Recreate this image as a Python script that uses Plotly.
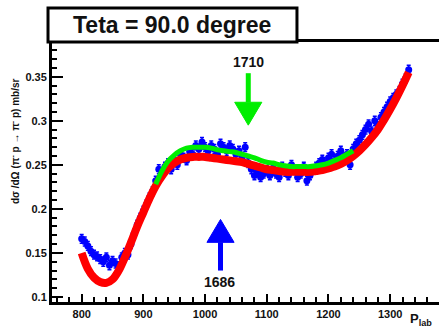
import plotly.graph_objects as go

# ---- data ----
p_lab = [800, 805, 810, 815, 820, 825, 830, 835, 840, 845, 850, 855, 860, 865, 870, 875,
         880, 885, 890, 895, 900, 905, 910, 915, 920, 925, 930, 935, 940, 945, 950, 955,
         960, 965, 970, 975, 980, 985, 990, 995, 1000, 1005, 1010, 1015, 1020, 1025, 1030,
         1035, 1040, 1045, 1050, 1055, 1060, 1065, 1070, 1075, 1080, 1085, 1090, 1095, 1100,
         1105, 1110, 1115, 1120, 1125, 1130, 1135, 1140, 1145, 1150, 1155, 1160, 1165, 1170,
         1175, 1180, 1185, 1190, 1195, 1200, 1205, 1210, 1215, 1220, 1225, 1230, 1235, 1240,
         1245, 1250, 1255, 1260, 1265, 1270, 1275, 1280, 1285, 1290, 1295, 1300, 1305, 1310,
         1315, 1320, 1325, 1330]
dsigma = [0.166, 0.163, 0.158, 0.152, 0.148, 0.146, 0.143, 0.140, 0.145, 0.136, 0.141, 0.138,
          0.135, 0.145, 0.150, 0.148, 0.160, 0.172, 0.182, 0.190, 0.198, 0.205, 0.213, 0.220,
          0.232, 0.245, 0.240, 0.248, 0.252, 0.245, 0.256, 0.250, 0.262, 0.258, 0.255, 0.265,
          0.262, 0.272, 0.268, 0.276, 0.270, 0.266, 0.272, 0.268, 0.262, 0.274, 0.270, 0.266,
          0.272, 0.268, 0.262, 0.266, 0.258, 0.270, 0.252, 0.245, 0.238, 0.242, 0.236, 0.240,
          0.244, 0.238, 0.246, 0.240, 0.236, 0.248, 0.242, 0.238, 0.250, 0.244, 0.236, 0.240,
          0.248, 0.232, 0.238, 0.245, 0.248, 0.252, 0.256, 0.250, 0.258, 0.262, 0.255, 0.260,
          0.266, 0.258, 0.262, 0.250, 0.268, 0.274, 0.278, 0.284, 0.290, 0.296, 0.288, 0.300,
          0.294, 0.304, 0.310, 0.316, 0.322, 0.326, 0.330, 0.334, 0.342, 0.348, 0.358]
dsigma_err = [0.005] * len(p_lab)

fit_red_x = [800, 810, 820, 830, 840, 850, 860, 870, 880, 890, 900, 910, 920, 930, 940, 950,
             960, 970, 980, 990, 1000, 1010, 1020, 1030, 1040, 1050, 1060, 1070, 1080, 1090,
             1100, 1110, 1120, 1130, 1140, 1150, 1160, 1170, 1180, 1190, 1200, 1210, 1220,
             1230, 1240, 1250, 1260, 1270, 1280, 1290, 1300, 1310, 1320, 1330]
fit_red_y = [0.150, 0.132, 0.122, 0.117, 0.116, 0.120, 0.130, 0.145, 0.162, 0.180, 0.196,
             0.212, 0.226, 0.237, 0.246, 0.252, 0.256, 0.258, 0.259, 0.259, 0.259, 0.258,
             0.257, 0.256, 0.255, 0.254, 0.253, 0.251, 0.249, 0.247, 0.245, 0.244, 0.243,
             0.242, 0.242, 0.242, 0.242, 0.242, 0.243, 0.244, 0.246, 0.248, 0.251, 0.255,
             0.260, 0.266, 0.273, 0.281, 0.290, 0.301, 0.313, 0.326, 0.340, 0.355]

fit_green_x = [920, 930, 940, 950, 960, 970, 980, 990, 1000, 1010, 1020, 1030, 1040, 1050,
               1060, 1070, 1080, 1090, 1100, 1110, 1120, 1130, 1140, 1150, 1160, 1170, 1180,
               1190, 1200, 1210, 1220, 1230, 1240]
fit_green_y = [0.228, 0.243, 0.254, 0.261, 0.266, 0.269, 0.270, 0.270, 0.270, 0.269, 0.267,
               0.266, 0.265, 0.264, 0.262, 0.260, 0.258, 0.255, 0.253, 0.252, 0.250, 0.249,
               0.248, 0.248, 0.248, 0.248, 0.249, 0.250, 0.252, 0.255, 0.258, 0.262, 0.266]

x_ticks = [800, 900, 1000, 1100, 1200, 1300]
y_ticks = [0.1, 0.15, 0.2, 0.25, 0.3, 0.35]
y_tick_labels = ["0.1", "0.15", "0.2", "0.25", "0.3", "0.35"]

# ---- figure ----
fig = go.Figure()
fig.add_trace(go.Scatter(
    x=p_lab, y=dsigma, mode="markers",
    marker=dict(color="#0000ff", size=7, symbol="circle"),
    error_y=dict(type="data", array=dsigma_err, color="#0000ff", thickness=1.5, width=2),
    showlegend=False))
fig.add_trace(go.Scatter(x=fit_red_x, y=fit_red_y, mode="lines",
                         line=dict(color="#ff0000", width=8, shape="spline"), showlegend=False))
fig.add_trace(go.Scatter(x=fit_green_x, y=fit_green_y, mode="lines",
                         line=dict(color="#00ee00", width=5, shape="spline"), showlegend=False))

# arrows (data coordinates)
def arrow(xc, y_tail, y_base, y_tip, half_w, color):
    return [
        dict(type="line", xref="x", yref="y", x0=xc, x1=xc, y0=y_tail, y1=y_base,
             line=dict(color=color, width=5)),
        dict(type="path", xref="x", yref="y",
             path=f"M {xc - half_w},{y_base} L {xc + half_w},{y_base} L {xc},{y_tip} Z",
             fillcolor=color, line=dict(color=color, width=1)),
    ]

shapes = []
shapes += arrow(1070, 0.354, 0.321, 0.295, 22, "#00ee00")
shapes += arrow(1025, 0.130, 0.162, 0.188, 22, "#0000ff")
# title box
shapes.append(dict(type="rect", xref="paper", yref="paper", x0=-0.0103, x1=0.633,
                   y0=1.0, y1=1.1308, fillcolor="white", line=dict(color="black", width=3),
                   layer="above"))

bold = dict(family="Liberation Sans, Arial, sans-serif", color="#111111", weight="bold")

annotations = [
    dict(text="Teta = 90.0 degree", xref="paper", yref="paper", x=0.311, y=1.065,
         showarrow=False, font=dict(bold, size=23), xanchor="center", yanchor="middle"),
    dict(text="1710", xref="x", yref="y", x=1070, y=0.3667, showarrow=False,
         font=dict(bold, size=14)),
    dict(text="1686", xref="x", yref="y", x=1023, y=0.1167, showarrow=False,
         font=dict(bold, size=14)),
    dict(text="P<sub>lab</sub>", xref="paper", yref="paper", x=(408 - 52) / 387,
         y=(302 - 319) / 260, showarrow=False, font=dict(bold, size=13),
         xanchor="left", yanchor="middle"),
    dict(text="dσ /dΩ (π<sup>-</sup> p → π<sup>-</sup> p) mb/sr", xref="paper", yref="paper",
         x=(15 - 52) / 387, y=(302 - 141) / 260, textangle=-90, showarrow=False,
         font=dict(bold, size=10), xanchor="center", yanchor="middle"),
]

fig.update_layout(
    width=439, height=330,
    margin=dict(l=52, r=0, t=42, b=28),
    paper_bgcolor="white", plot_bgcolor="white",
    shapes=shapes, annotations=annotations,
    xaxis=dict(range=[751.9, 1379.1], showgrid=False, zeroline=False,
               showline=True, linecolor="black", linewidth=3, mirror=True,
               ticks="inside", ticklen=8, tickwidth=2, tickcolor="black",
               tickvals=x_ticks, ticktext=[str(v) for v in x_ticks],
               tickfont=dict(bold, size=11),
               minor=dict(dtick=20, tick0=800, ticks="inside", ticklen=5, tickwidth=2,
                          tickcolor="black", showgrid=False)),
    yaxis=dict(range=[0.0943, 0.3894], showgrid=False, zeroline=False,
               showline=True, linecolor="black", linewidth=3, mirror=False,
               ticks="inside", ticklen=11, tickwidth=2, tickcolor="black",
               tickvals=y_ticks, ticktext=y_tick_labels,
               tickfont=dict(bold, size=11),
               minor=dict(dtick=0.01, tick0=0.1, ticks="inside", ticklen=5, tickwidth=2,
                          tickcolor="black", showgrid=False)),
)

fig.write_html("out.html", config={"displayModeBar": False},
               post_script="document.body.style.margin='0';document.body.style.padding='0';")
